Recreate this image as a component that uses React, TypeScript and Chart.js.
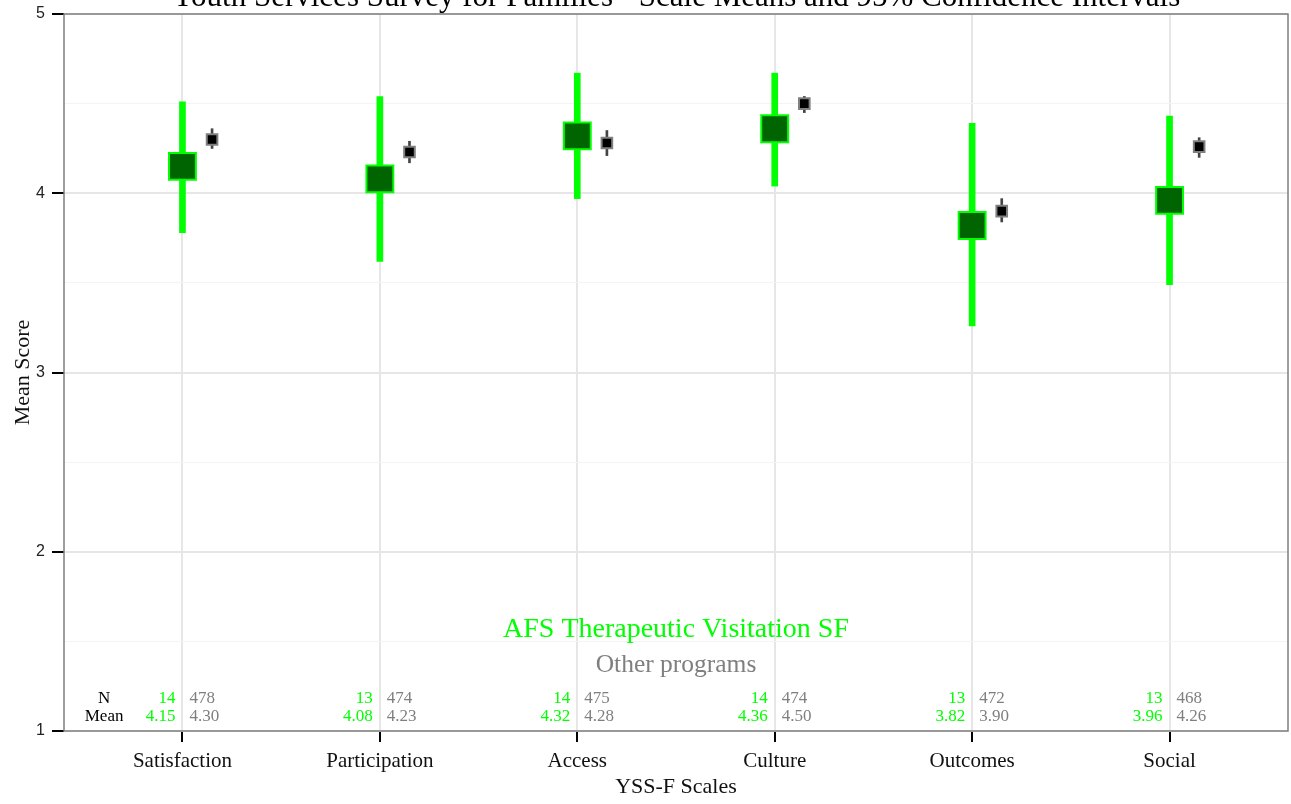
import { useEffect, useRef } from "react";
import { Chart, registerables } from "chart.js";

Chart.register(...registerables);

const titleText = "Youth Services Survey for Families - Scale Means and 95% Confidence Intervals";
const categories = ["Satisfaction", "Participation", "Access", "Culture", "Outcomes", "Social"];
const programName = "AFS Therapeutic Visitation SF";
const otherName = "Other programs";
const programN = [14, 13, 14, 14, 13, 13];
const programMean = [4.15, 4.08, 4.32, 4.36, 3.82, 3.96];
const programLow = [3.78, 3.62, 3.97, 4.04, 3.26, 3.49];
const programHigh = [4.51, 4.54, 4.67, 4.67, 4.39, 4.43];
const otherN = [478, 474, 475, 474, 472, 468];
const otherMean = [4.3, 4.23, 4.28, 4.5, 3.9, 4.26];
const otherLow = [4.25, 4.17, 4.21, 4.45, 3.84, 4.2];
const otherHigh = [4.36, 4.29, 4.35, 4.54, 3.97, 4.31];
const yTickValues = [1, 2, 3, 4, 5];

const OTHER_OFFSET = 0.15;
const GREEN = "#00ff00";
const DARK_GREEN = "#006400";
const GRAY_TEXT = "#7f7f7f";
const SERIF = '"Liberation Serif", "DejaVu Serif", serif';

const textPlugin = {
  id: "textPlugin",
  afterDraw(chart: any) {
    const { ctx, chartArea, scales } = chart;
    const x = scales.x;
    const y = scales.y;
    ctx.save();
    // panel border
    ctx.strokeStyle = "#7f7f7f";
    ctx.lineWidth = 1.5;
    ctx.strokeRect(chartArea.left, chartArea.top, chartArea.right - chartArea.left, chartArea.bottom - chartArea.top);

    // title (partly clipped at top, as in reference)
    const cx = (chartArea.left + chartArea.right) / 2;
    ctx.fillStyle = "#000";
    ctx.textAlign = "center";
    ctx.textBaseline = "alphabetic";
    ctx.font = `31px ${SERIF}`;
    ctx.fillText(titleText, cx, 6);

    // legend texts
    ctx.textBaseline = "middle";
    ctx.font = `28px ${SERIF}`;
    ctx.fillStyle = GREEN;
    ctx.fillText(programName, cx, y.getPixelForValue(1.565));
    ctx.font = `25.5px ${SERIF}`;
    ctx.fillStyle = GRAY_TEXT;
    ctx.fillText(otherName, cx, y.getPixelForValue(1.365));

    // N / Mean table
    const yN = y.getPixelForValue(1.179);
    const yM = y.getPixelForValue(1.078);
    ctx.font = `17px ${SERIF}`;
    ctx.fillStyle = "#000";
    ctx.textAlign = "center";
    const lx = x.getPixelForValue(0.603);
    ctx.fillText("N", lx, yN);
    ctx.fillText("Mean", lx, yM);
    for (let i = 0; i < categories.length; i++) {
      const px = x.getPixelForValue(i + 1);
      ctx.textAlign = "right";
      ctx.fillStyle = GREEN;
      ctx.fillText(String(programN[i]), px - 7, yN);
      ctx.fillText(programMean[i].toFixed(2), px - 7, yM);
      ctx.textAlign = "left";
      ctx.fillStyle = GRAY_TEXT;
      ctx.fillText(String(otherN[i]), px + 7, yN);
      ctx.fillText(otherMean[i].toFixed(2), px + 7, yM);
    }
    ctx.restore();
  },
};

export default function App() {
  const ref = useRef<HTMLCanvasElement | null>(null);

  useEffect(() => {
    document.body.style.margin = "0";
    const canvas = ref.current;
    if (!canvas) return;

    const chart = new Chart(canvas, {
      type: "bar",
      data: {
        datasets: [
          {
            type: "scatter",
            label: programName,
            data: programMean.map((v, i) => ({ x: i + 1, y: v })),
            pointStyle: "rect",
            pointRadius: 19,
            pointHoverRadius: 19,
            backgroundColor: DARK_GREEN,
            borderColor: GREEN,
            borderWidth: 2,
            order: 0,
          } as any,
          {
            type: "scatter",
            label: otherName,
            data: otherMean.map((v, i) => ({ x: i + 1 + OTHER_OFFSET, y: v })),
            pointStyle: "rect",
            pointRadius: 7.5,
            pointHoverRadius: 7.5,
            backgroundColor: "#000",
            borderColor: "#808080",
            borderWidth: 2,
            order: 0,
          } as any,
          {
            type: "bar",
            label: programName + " CI",
            data: programLow.map((lo, i) => ({ x: i + 1, y: [lo, programHigh[i]] })),
            backgroundColor: GREEN,
            borderWidth: 0,
            barThickness: 6,
            grouped: false,
            order: 1,
          } as any,
          {
            type: "bar",
            label: otherName + " CI",
            data: otherLow.map((lo, i) => ({ x: i + 1 + OTHER_OFFSET, y: [lo, otherHigh[i]] })),
            backgroundColor: "#444444",
            borderWidth: 0,
            barThickness: 2,
            grouped: false,
            order: 1,
          } as any,
        ],
      },
      options: {
        responsive: false,
        animation: false,
        devicePixelRatio: 1,
        layout: { autoPadding: false, padding: { top: 14, right: 3, left: 0, bottom: 0 } },
        plugins: {
          legend: { display: false },
          tooltip: { enabled: false },
          title: { display: false },
        },
        scales: {
          x: {
            type: "linear",
            min: 0.4,
            max: 6.6,
            offset: false,
            afterBuildTicks: (scale: any) => {
              scale.ticks = categories.map((_, i) => ({ value: i + 1 }));
            },
            afterFit: (scale: any) => {
              scale.height = 73;
              scale.paddingLeft = 0;
              scale.paddingRight = 0;
            },
            ticks: {
              autoSkip: false,
              maxRotation: 0,
              padding: 7,
              color: "#111",
              font: { family: SERIF, size: 21 },
              callback: (v: any) => categories[Math.round(Number(v)) - 1] ?? "",
            },
            grid: {
              offset: false,
              color: "#e6e6e6",
              lineWidth: 2,
              tickColor: "#000",
              tickLength: 11,
              tickWidth: 2,
            },
            border: { display: false },
            title: {
              display: true,
              text: "YSS-F Scales",
              color: "#111",
              font: { family: SERIF, size: 22 },
              padding: { top: 0, bottom: 4 },
            },
          },
          y: {
            type: "linear",
            min: 1,
            max: 5,
            afterBuildTicks: (scale: any) => {
              const t: any[] = [];
              for (let v = 1; v <= 5.0001; v += 0.5) t.push({ value: Math.round(v * 2) / 2 });
              scale.ticks = t;
            },
            afterFit: (scale: any) => {
              scale.width = 64;
              scale.paddingTop = 0;
              scale.paddingBottom = 0;
            },
            ticks: {
              padding: 7,
              color: "#222",
              font: { family: '"Liberation Sans", Arial, sans-serif', size: 16 },
              callback: (v: any) => (yTickValues.includes(Number(v)) ? String(v) : ""),
            },
            grid: {
              color: (c: any) => (Number.isInteger(c.tick?.value) ? "#e6e6e6" : "#f4f4f4"),
              lineWidth: (c: any) => (Number.isInteger(c.tick?.value) ? 2 : 1),
              tickColor: (c: any) => (Number.isInteger(c.tick?.value) ? "#000" : "rgba(0,0,0,0)"),
              tickLength: 12,
              tickWidth: 2,
            },
            border: { display: false },
            title: {
              display: true,
              text: "Mean Score",
              color: "#111",
              font: { family: SERIF, size: 22 },
              padding: { top: 10, bottom: 0 },
            },
          },
        },
      },
      plugins: [textPlugin],
    });

    return () => chart.destroy();
  }, []);

  return <canvas ref={ref} width={1291} height={804} style={{ display: "block", width: 1291, height: 804 }} />;
}
